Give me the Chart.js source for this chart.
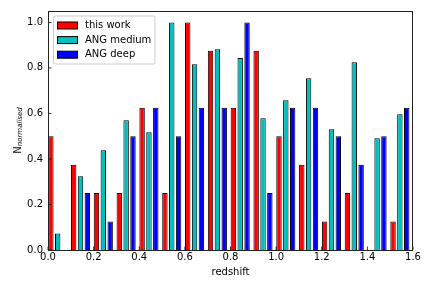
<!DOCTYPE html>
<html><head><meta charset="utf-8">
<script src="https://cdn.jsdelivr.net/npm/chart.js@4.4.1/dist/chart.umd.min.js"></script>
<style>html,body{margin:0;padding:0;background:#fff;}#wrap{width:432px;height:288px;position:relative;}</style>
</head><body><div id="wrap"><canvas id="c" width="432" height="288"></canvas></div>
<script>
const bins = [0.0,0.1,0.2,0.3,0.4,0.5,0.6,0.7,0.8,0.9,1.0,1.1,1.2,1.3,1.4,1.5];
const thisWork = [0.5,0.375,0.25,0.25,0.625,0.25,1.0,0.875,0.625,0.875,0.5,0.375,0.125,0.25,0.0,0.125];
const angMedium = [0.073,0.324,0.438,0.570,0.517,1.0,0.816,0.882,0.843,0.579,0.658,0.755,0.530,0.825,0.491,0.596];
const angDeep = [0.0,0.25,0.125,0.5,0.625,0.5,0.625,0.625,1.0,0.25,0.625,0.625,0.5,0.375,0.5,0.625];
const seriesNames = ['this work','ANG medium','ANG deep'];
const xTicks = [0.0,0.2,0.4,0.6,0.8,1.0,1.2,1.4,1.6];
const yTicks = [0.0,0.2,0.4,0.6,0.8,1.0];
const xLabel = 'redshift';
const yLabelMain = 'N';
const yLabelSub = 'normalised';

const FONT = 'DejaVu Sans';
const TXT = '#000';
const colors = ['#ff0000','#00bfbf','#0000ff'];
const GROUP_OFFSET = 0.0425;
const series = [thisWork, angMedium, angDeep];

const datasets = series.map((vals,k)=>({
  label: seriesNames[k],
  data: bins.map((b,i)=>({x: b + GROUP_OFFSET, y: vals[i]})),
  backgroundColor: colors[k],
  borderColor: '#000',
  borderWidth: 1,
  categoryPercentage: 0.9,
  barPercentage: 0.79
}));

const decor = {
  id: 'decor',
  afterDatasetsDraw(chart){
    const {ctx, chartArea:{left,right,top,bottom}, scales:{x,y}} = chart;
    ctx.save();
    ctx.strokeStyle = '#000';
    ctx.lineWidth = 0.8;
    ctx.beginPath();
    xTicks.forEach(v=>{const px = x.getPixelForValue(v); ctx.moveTo(px,bottom); ctx.lineTo(px,bottom-3.5);});
    yTicks.forEach(v=>{const py = y.getPixelForValue(v); ctx.moveTo(left,py); ctx.lineTo(left+3.5,py);});
    ctx.stroke();
    ctx.lineWidth = 1;
    ctx.strokeStyle = '#222';
    ctx.strokeRect(left+0.5, top+0.5, right-left-1, bottom-top);
    ctx.restore();
  },
  afterDraw(chart){
    const {ctx, chartArea:{left,right,top,bottom}} = chart;
    ctx.save();
    // legend
    const lx = left+5.5, ly = top+5, lw = 101.5, lh = 48;
    ctx.beginPath();
    ctx.roundRect(lx, ly, lw, lh, 2);
    ctx.fillStyle = 'rgba(255,255,255,0.8)';
    ctx.fill();
    ctx.strokeStyle = '#cccccc';
    ctx.lineWidth = 1;
    ctx.stroke();
    ctx.font = '10px "'+FONT+'"';
    ctx.textBaseline = 'middle';
    ctx.textAlign = 'left';
    chart.data.datasets.forEach((ds,i)=>{
      const cy = ly + 9.5 + i*14.6;
      ctx.fillStyle = ds.backgroundColor;
      ctx.fillRect(lx+4, cy-3.5, 20, 7);
      ctx.strokeStyle = '#000';
      ctx.lineWidth = 1;
      ctx.strokeRect(lx+4, cy-3.5, 20, 7);
      ctx.fillStyle = TXT;
      ctx.fillText(ds.label, lx+31.5, cy);
    });
    // x title
    ctx.textAlign = 'center';
    ctx.textBaseline = 'alphabetic';
    ctx.fillStyle = TXT;
    ctx.font = '10px "'+FONT+'"';
    ctx.fillText(xLabel, (left+right)/2, 275);
    // y title with subscript
    ctx.font = '10px "'+FONT+'"';
    const wN = ctx.measureText(yLabelMain).width;
    ctx.font = 'italic 7px "'+FONT+'"';
    const wS = ctx.measureText(yLabelSub).width;
    const total = wN + wS;
    ctx.translate(20.5, (top+bottom)/2);
    ctx.rotate(-Math.PI/2);
    ctx.textAlign = 'left';
    ctx.font = '10px "'+FONT+'"';
    ctx.fillText(yLabelMain, -total/2, 0);
    ctx.font = 'italic 7px "'+FONT+'"';
    ctx.fillText(yLabelSub, -total/2 + wN, 1.6);
    ctx.restore();
  }
};

new Chart(document.getElementById('c'), {
  type: 'bar',
  data: { datasets },
  options: {
    responsive: false,
    animation: false,
    devicePixelRatio: 1,
    layout: { padding: { top: 11, right: 19, left: 0, bottom: 0 } },
    plugins: { legend: { display: false }, tooltip: { enabled: false }, title: { display: false } },
    scales: {
      x: {
        type: 'linear', min: 0, max: 1.6, offset: false,
        grid: { display: false, drawTicks: false },
        border: { display: false },
        ticks: { color: TXT, font: { family: FONT, size: 10 }, padding: 1, maxRotation: 0, autoSkip: false,
                 callback: v => Number(v).toFixed(1) },
        afterBuildTicks: s => { s.ticks = xTicks.map(v=>({value:v})); },
        afterFit: s => { s.height = 38; }
      },
      y: {
        type: 'linear', min: 0, max: 1.05,
        grid: { display: false, drawTicks: false },
        border: { display: false },
        ticks: { color: TXT, font: { family: FONT, size: 10 }, padding: 5,
                 callback: v => Number(v).toFixed(1) },
        afterBuildTicks: s => { s.ticks = yTicks.map(v=>({value:v})); },
        afterFit: s => { s.width = 48; }
      }
    }
  },
  plugins: [decor]
});
</script>
</body></html>
